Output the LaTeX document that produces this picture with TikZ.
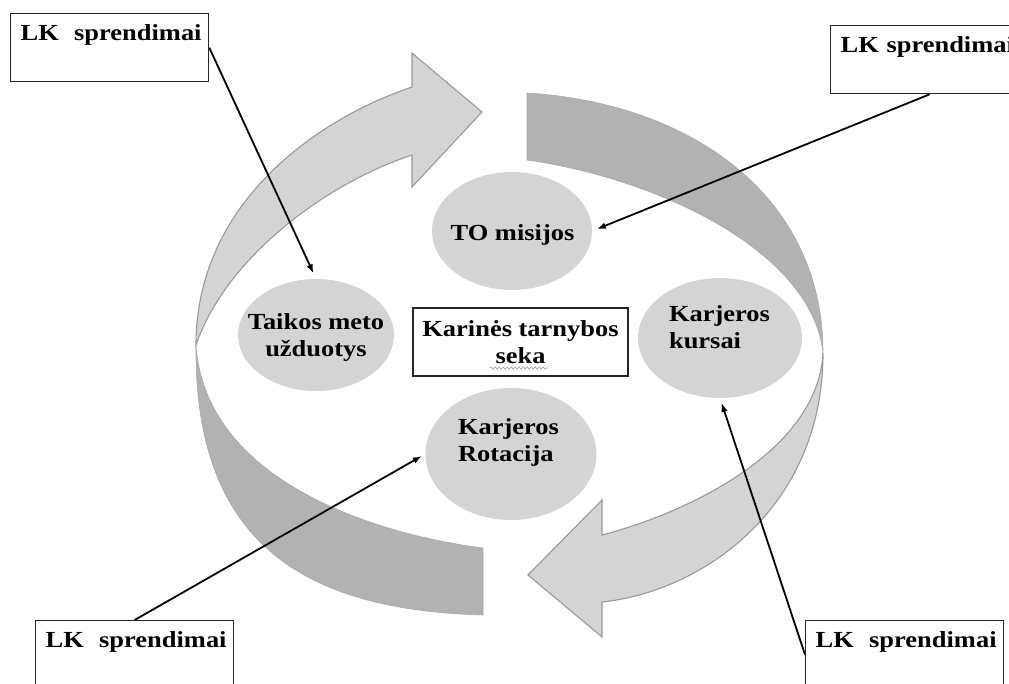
\documentclass[tikz,border=0pt]{standalone}
\usepackage{fontspec}
\newfontfamily\dfont{Liberation Serif}[FakeStretch=1.15]
\usetikzlibrary{arrows.meta,shapes.geometric,decorations.pathmorphing}
\begin{document}
\begin{tikzpicture}[x=1pt,y=-1pt,
  lightarrow/.style={fill=black!17, draw=black!40, line width=1.1pt},
  darkarrow/.style={fill=black!30, draw=black!34, line width=0.6pt},
  ell/.style={ellipse, fill=black!17, draw=none, inner sep=0pt},
  txt/.style={font=\dfont\bfseries\fontsize{23}{27}\selectfont, inner sep=0pt},
  lkbox/.style={draw=black!85, line width=1.3pt, fill=white, anchor=north west,
    text width=178pt, inner xsep=10pt, inner ysep=0pt, text height=27pt, text depth=41pt,
    align=left, font=\dfont\bfseries\fontsize{23}{27}\selectfont},
  conn/.style={-{Latex[length=9pt,width=6.5pt]}, line width=1.8pt}]
\useasboundingbox (0,0) rectangle (1009,683);
\clip (0,0) rectangle (1009,683);
% big twisted arrows
\path[darkarrow] (196,345) .. controls (194,540) and (300,610) .. (483,615) -- (483,548)
  .. controls (373,534) and (205,480) .. (196,345) -- cycle;
\path[lightarrow] (196,345) .. controls (196,200) and (322,117) .. (412,87) -- (412,53) -- (482,112)
  -- (412,187) -- (412,155) .. controls (322,185) and (225,260) .. (196,345) -- cycle;
\path[darkarrow] (527,93) .. controls (690,103) and (823,195) .. (823,353)
  .. controls (812,250) and (655,178) .. (527,160) -- cycle;
\path[lightarrow] (823,353) .. controls (823,510) and (700,592) .. (602,602) -- (602,637) -- (528,575)
  -- (602,500) -- (602,535) .. controls (690,512) and (818,450) .. (823,353) -- cycle;
% ellipses
\node[ell, minimum width=160pt, minimum height=118pt] (to) at (512,231) {};
\node[ell, minimum width=156pt, minimum height=112pt] (taik) at (316,335) {};
\node[ell, minimum width=164pt, minimum height=120pt] (kur) at (720,338) {};
\node[ell, minimum width=171pt, minimum height=132pt] (rot) at (511,454) {};
\node[txt] (tot) at (512.5,235) {TO misijos};
\node[txt, align=center] (taikt) at (316,337) {Taikos meto\\užduotys};
\node[txt, align=left] (kurt) at (719.5,327) {Karjeros\\kursai};
\node[txt, align=left] (rott) at (508.5,442) {Karjeros\\Rotacija};
% centre box
\node[txt, draw=black!85, line width=1.3pt, minimum width=215pt, minimum height=68pt, align=center]
  (cbox) at (520.5,342) {Karinės tarnybos\\seka};
\draw[black!40, line width=0.6pt, decorate, decoration={snake, amplitude=1.1pt, segment length=4pt}]
  (490,368) -- (548,368);
% LK boxes
\node[lkbox] (tl) at (10,13) {\mbox{LK\ \ sprendimai}};
\node[lkbox] (tr) at (830,25) {\mbox{LK sprendimai}};
\node[lkbox] (bl) at (35,620) {\mbox{LK\ \ sprendimai}};
\node[lkbox] (br) at (805,620) {\mbox{LK\ \ sprendimai}};
% connectors
\draw[conn, shorten >=6pt] (tl.east) -- (taik.north);
\draw[conn, shorten >=5pt] (tr.south) -- (to.east);
\draw[conn, shorten >=4pt] (bl.north) -- (rot.west);
\draw[conn, shorten >=5pt] (br.west) -- (kur.south);
\end{tikzpicture}
\end{document}
